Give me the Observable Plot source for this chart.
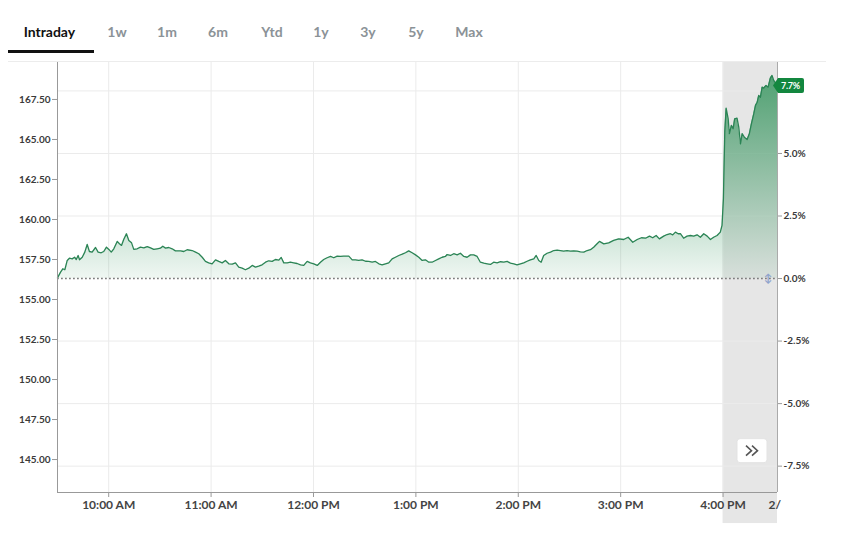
<!DOCTYPE html>
<html><head><meta charset="utf-8">
<script src="https://cdn.jsdelivr.net/npm/d3@7"></script>
<script src="https://cdn.jsdelivr.net/npm/@observablehq/plot@0.6"></script>
<style>
body{margin:0;background:#fff;font-family:Lato,"Open Sans",sans-serif;}
#tabs{position:relative;height:62px;box-sizing:border-box;margin-left:8px;width:818px;border-bottom:1px solid #ececec;}
#tabs span{position:absolute;top:23px;font-size:14px;font-weight:700;color:#8b9297;transform:translateX(-50%);white-space:nowrap;}
#tabs span.active{color:#111;}
#tabs .bar{position:absolute;left:0;top:50px;width:86px;height:2.5px;background:#111;}
#chart svg{display:block;overflow:visible;}
</style></head>
<body>
<div id="tabs"></div>
<div id="chart"></div>
<script>
// ---- data ----
const tabLabels = ["Intraday","1w","1m","6m","Ytd","1y","3y","5y","Max"];
const activeTab = "Intraday";
// minutes after 9:30 AM
const times = [
0,1.8,3.1,4.3,5.7,7.0,8.6,10.0,11.0,12.1,12.9,14.5,16.0,17.4,18.7,20.3,22.3,23.8,25.6,27.1,
28.7,30.1,31.5,33.0,35.0,36.3,37.5,38.8,40.4,41.8,43.4,44.7,46.7,48.6,50.6,52.6,54.5,56.4,58.4,60.3,
61.7,63.3,65.2,67.2,69.1,72.1,74.0,76.0,78.9,80.9,82.8,84.8,86.7,88.6,90.6,92.6,94.5,96.5,98.4,100.4,
102.4,104.3,106.2,
108.2,110.1,112.1,114.1,116.0,117.9,119.9,121.9,123.8,125.8,127.7,129.7,131.1,132.6,134.6,
136.5,138.4,140.4,142.4,144.3,146.3,148.2,150.2,152.2,154.1,156.0,158.0,160.0,161.9,163.9,
165.8,167.7,170.7,172.7,174.6,176.5,178.5,180.5,182.4,184.4,186.3,188.3,190.2,192.2,194.1,
196.1,198.0,200.0,202.0,203.9,205.8,207.8,209.8,211.7,
213.7,215.6,217.6,219.5,221.5,223.4,225.4,227.3,228.3,230.3,232.2,234.2,236.1,238.1,240.0,
242.0,243.9,245.9,247.8,249.8,251.8,253.7,255.6,257.6,259.6,261.5,263.5,265.4,267.4,269.3,
271.3,273.2,275.2,277.1,279.1,280.5,282.0,283.4,284.9,286.9,288.9,290.8,292.8,294.7,296.6,
298.6,300.6,302.5,304.5,306.4,308.4,310.4,312.3,314.2,316.2,317.6,
320.1,323.0,325.9,328.9,331.8,334.4,337.1,339.7,342.2,344.6,346.9,348.8,350.8,352.7,355.2,
357.2,359.2,360.5,362.1,363.7,365.0,366.9,368.9,370.9,372.8,374.8,376.7,378.7,380.7,382.6,
384.5,386.5,388.4,389.4,390.2,391.0,391.8,393.0,393.7,394.9,395.9,396.8,398.2,399.2,400.2,
401.2,402.5,404.1,405.4,406.6,408.0,409.0,410.0,410.9,411.9,412.9,413.8,415.2,416.4,417.7,
418.7,419.7,421.9
];
const prices = [
156.35,156.71,156.92,156.86,157.44,157.58,157.54,157.64,157.50,157.75,157.48,157.64,157.96,158.44,158.00,157.96,158.25,157.96,157.92,158.00,
158.27,158.13,157.96,158.17,158.63,158.48,158.38,158.75,159.11,158.69,158.54,158.13,158.17,158.27,158.23,158.31,158.23,158.13,158.17,158.21,
158.33,158.21,158.25,158.17,158.04,158.04,158.00,158.11,158.06,157.96,157.86,157.64,157.38,157.29,157.23,157.48,157.38,157.29,157.44,157.23,
157.21,157.29,157.02,
156.96,156.86,156.96,157.13,157.02,157.08,157.17,157.33,157.42,157.38,157.50,157.46,157.63,157.29,157.29,
157.33,157.29,157.25,157.17,157.13,157.38,157.29,157.23,157.13,157.33,157.50,157.61,157.69,157.61,157.71,
157.69,157.71,157.71,157.48,157.48,157.44,157.48,157.39,157.38,157.33,157.38,157.23,157.17,157.23,157.29,
157.54,157.64,157.75,157.83,157.92,158.04,157.92,157.79,157.64,
157.44,157.48,157.33,157.33,157.44,157.54,157.64,157.69,157.81,157.75,157.86,157.79,157.89,157.69,157.64,
157.79,157.79,157.69,157.33,157.27,157.23,157.19,157.33,157.29,157.36,157.33,157.38,157.27,157.23,157.17,
157.23,157.29,157.39,157.48,157.54,157.75,157.44,157.33,157.75,157.89,157.96,158.06,158.08,158.06,158.02,
158.06,158.02,158.04,158.02,157.98,157.96,158.06,158.11,158.27,158.48,158.63,
158.48,158.54,158.69,158.79,158.75,158.89,158.58,158.75,158.86,158.83,158.96,158.86,159.00,158.79,158.96,
159.06,159.11,159.04,159.21,159.11,159.11,158.83,158.96,159.00,158.96,159.04,158.89,159.11,158.96,158.75,
158.89,159.00,159.21,159.63,161.29,165.46,166.96,166.29,165.36,165.88,165.67,166.29,166.33,165.77,164.73,
165.36,165.14,165.00,165.36,165.98,166.61,167.13,167.33,167.75,167.64,168.27,168.21,168.38,168.27,168.83,
169.00,168.69,168.34
];
const prevClose = 156.31;
const lastChangeLabel = "7.7%";
const sessionStart = 0;        // 9:30 AM
const afterHoursStart = 390;   // 4:00 PM
const sessionEnd = 421.9;
const hourTicks = [30, 90, 150, 210, 270, 330, 390];
const hourLabels = ["10:00 AM","11:00 AM","12:00 PM","1:00 PM","2:00 PM","3:00 PM","4:00 PM"];
const nextDayLabel = "2/";
const nextDayTick = 416.6;
const priceTicks = [145, 147.5, 150, 152.5, 155, 157.5, 160, 162.5, 165, 167.5];
const pctTicks = [-7.5, -5, -2.5, 0, 2.5, 5];
const pctGrid = [-7.5, -5, -2.5, 2.5, 5, 7.5];
const yDomain = [142.94, 169.81];

// ---- tabs ----
const tabCenters = [41.4, 109, 159, 210, 264, 313, 360, 408, 461];
const tabs = document.getElementById("tabs");
tabLabels.forEach((t, i) => {
  const s = document.createElement("span");
  s.textContent = t;
  s.style.left = tabCenters[i] + "px";
  if (t === activeTab) s.className = "active";
  tabs.appendChild(s);
});
const bar = document.createElement("div"); bar.className = "bar"; tabs.appendChild(bar);

// ---- chart ----
const data = times.map((t, i) => ({t, p: prices[i]}));
const pctToPrice = p => prevClose * (1 + p / 100);
const green = "#1f8a4c";

const gradient = () => {
  const defs = d3.create("svg:defs");
  const g = defs.append("linearGradient").attr("id", "areaGrad")
    .attr("x1", 0).attr("x2", 0).attr("y1", 0).attr("y2", 1);
  g.append("stop").attr("offset", "0%").attr("stop-color", green).attr("stop-opacity", 0.75);
  g.append("stop").attr("offset", "100%").attr("stop-color", green).attr("stop-opacity", 0.07);
  return defs.node();
};

const plot = Plot.plot({
  width: 854,
  height: 480,
  marginTop: 0,
  marginBottom: 50,
  marginLeft: 57,
  marginRight: 77,
  style: "font-family:Lato,sans-serif;font-weight:700;background:#fff;overflow:visible;",
  x: {type: "linear", domain: [sessionStart, sessionEnd]},
  y: {domain: yDomain},
  marks: [
    gradient,
    Plot.rect([0], {x1: afterHoursStart, x2: sessionEnd, y1: 141.0, y2: yDomain[1], fill: "#e6e6e6"}),
    Plot.ruleX(hourTicks, {stroke: "#ebebeb", strokeWidth: 1}),
    Plot.ruleY(pctGrid.map(pctToPrice), {stroke: "#ebebeb", strokeWidth: 1}),
    Plot.areaY(data, {x: "t", y1: prevClose, y2: "p", fill: "url(#areaGrad)"}),
    Plot.ruleY([prevClose], {stroke: "#7d7d7d", strokeWidth: 1.5, strokeDasharray: "1.8,2.2"}),
    Plot.lineY(data, {x: "t", y: "p", stroke: "#2b8455", strokeWidth: 1.3}),
    Plot.ruleX([sessionStart], {stroke: "#999"}),
    Plot.ruleX([sessionEnd], {stroke: "#aaa"}),
    Plot.ruleY([yDomain[0]], {stroke: "#999"}),
    Plot.axisY({ticks: priceTicks, anchor: "left", tickFormat: d => d.toFixed(2), tickSize: 5, tickPadding: 2,
      fontSize: 10, stroke: "#999", fill: "#3a3a3a", label: null}),
    Plot.axisY({ticks: pctTicks.map(pctToPrice), anchor: "right", tickSize: 4, tickPadding: 2,
      tickFormat: d => { let v = Math.round((d / prevClose - 1) * 1000) / 10; if (Object.is(v, -0)) v = 0; return v.toFixed(1) + "%"; },
      fontSize: 10, stroke: "#999", fill: "#3a3a3a", label: null}),
    Plot.axisX({ticks: hourTicks, tickFormat: d => hourLabels[hourTicks.indexOf(d)], tickSize: 5, tickPadding: 3,
      fontSize: 12, stroke: "#999", fill: "#444", label: null}),
    Plot.text([nextDayLabel], {x: nextDayTick, y: yDomain[0], text: d => d, textAnchor: "start", lineAnchor: "top",
      dy: 8, fontSize: 12, fill: "#444"})
  ]
});
document.getElementById("chart").appendChild(plot);

// ---- overlays: last-change badge, baseline handle, scroll button ----
const xs = plot.scale("x"), ys = plot.scale("y");
const svg = d3.select(plot);
const bx = xs.apply(sessionEnd), by = ys.apply(prices[prices.length - 1]);
const badge = svg.append("g");
badge.append("path")
  .attr("d", `M${bx - 4},${by} L${bx + 1},${by - 7.5} L${bx + 25},${by - 7.5} Q${bx + 27},${by - 7.5} ${bx + 27},${by - 5.5} L${bx + 27},${by + 5.5} Q${bx + 27},${by + 7.5} ${bx + 25},${by + 7.5} L${bx + 1},${by + 7.5} Z`)
  .attr("fill", "#13873f");
badge.append("text").attr("x", bx + 13.5).attr("y", by).attr("dy", "0.35em")
  .attr("text-anchor", "middle").attr("fill", "#fff").attr("font-size", 9).attr("font-weight", 700)
  .attr("letter-spacing", "-0.3").text(lastChangeLabel);

svg.append("text").attr("x", bx - 9).attr("y", ys.apply(prevClose)).attr("dy", "0.35em")
  .attr("text-anchor", "middle").attr("fill", "#8fa3cc").attr("font-size", 11).text("↕");

const btn = svg.append("g").attr("transform", `translate(${bx - 40},${ys.apply(pctToPrice(-7.5)) - 27})`);
btn.append("rect").attr("width", 30).attr("height", 24).attr("rx", 3)
  .attr("fill", "#fff").attr("stroke", "#e3e3e3");
btn.append("path").attr("d", "M9,7 l5.5,5 l-5.5,5 M15,7 l5.5,5 l-5.5,5")
  .attr("fill", "none").attr("stroke", "#555").attr("stroke-width", 1.6);
</script>
</body></html>
